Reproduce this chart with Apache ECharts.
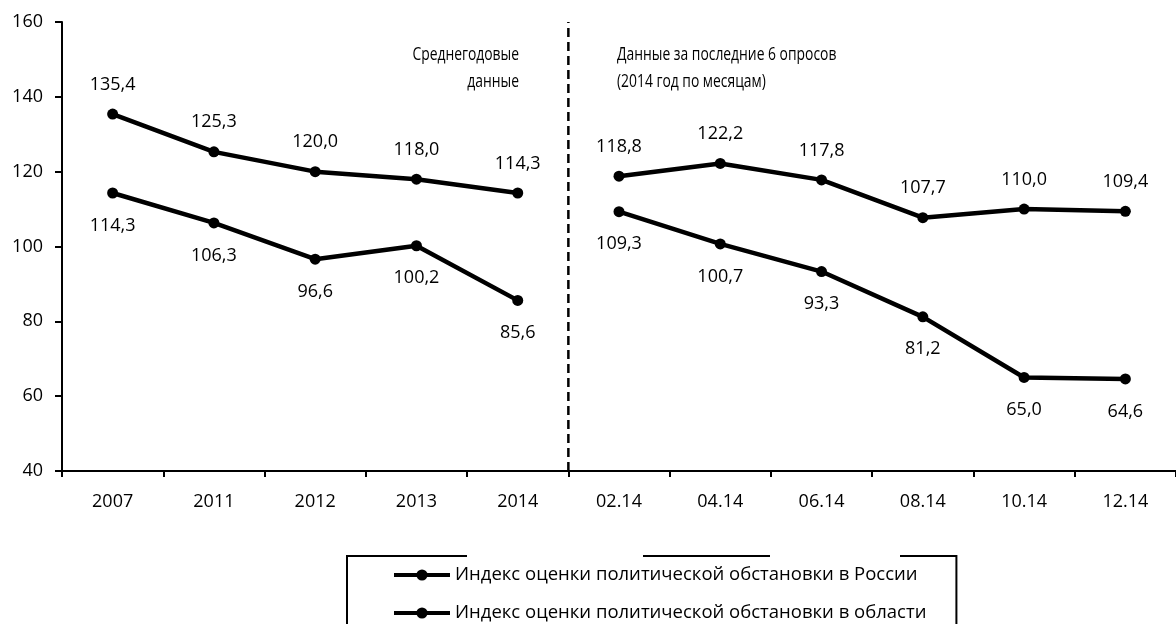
<!DOCTYPE html>
<html>
<head>
<meta charset="utf-8">
<script src="https://cdn.jsdelivr.net/npm/echarts@6/dist/echarts.min.js"></script>
<style>
    html, body { margin: 0; padding: 0; background: #fff; }
    #main { width: 1176px; height: 624px; }
</style>
</head>
<body>
<div id="main"></div>
<script>
    var categories = ['2007', '2011', '2012', '2013', '2014', '02.14', '04.14', '06.14', '08.14', '10.14', '12.14'];
    var russiaAnnual = [135.4, 125.3, 120.0, 118.0, 114.3];
    var russiaMonthly = [118.8, 122.2, 117.8, 107.7, 110.0, 109.4];
    var regionAnnual = [114.3, 106.3, 96.6, 100.2, 85.6];
    var regionMonthly = [109.3, 100.7, 93.3, 81.2, 65.0, 64.6];
    var dividerX = [5, 5];
    var dividerY = [40, 160];

    var nameRussia = 'Индекс оценки политической обстановки в России';
    var nameRegion = 'Индекс оценки политической обстановки в области';

    // годовые точки слева, месячные справа, между ними разрыв
    function padAfter(arr) {
        var out = arr.slice();
        while (out.length < categories.length) out.push('-');
        return out;
    }
    function padBefore(arr) {
        var out = arr.slice();
        while (out.length < categories.length) out.unshift('-');
        return out;
    }

    var font = '"Open Sans", sans-serif';

    function lineSeries(name, data, pos, dist) {
        return {
            name: name,
            type: 'line',
            data: data,
            symbol: 'circle',
            symbolSize: 11,
            lineStyle: { color: '#000', width: 4.5 },
            itemStyle: { color: '#000' },
            label: {
                show: true,
                position: pos,
                distance: dist,
                color: '#000',
                fontFamily: font,
                fontSize: 18,
                lineHeight: 20,
                formatter: function (p) {
                    return Number(p.value).toFixed(1).replace('.', ',');
                }
            },
            silent: true,
            animation: false
        };
    }

    var myChart = echarts.init(document.getElementById('main'));

    var option = {
        animation: false,
        grid: {
            left: 62,
            top: 22,
            width: 1119,
            height: 449
        },
        legend: {
            data: [nameRussia, nameRegion],
            orient: 'vertical',
            left: 347,
            top: 556,
            height: 200,
            padding: [9, 30, 12, 45],
            itemGap: 18,
            itemWidth: 56,
            itemHeight: 14,
            borderColor: '#000',
            borderWidth: 2,
            borderRadius: 0,
            selectedMode: false,
            lineStyle: { width: 4 },
            textStyle: {
                color: '#000',
                fontFamily: font,
                fontSize: 18.5,
                lineHeight: 20
            }
        },
        xAxis: [
            {
                type: 'category',
                data: categories,
                boundaryGap: true,
                axisLine: { lineStyle: { color: '#000', width: 2 } },
                axisTick: { show: true, length: 6, interval: 0, lineStyle: { color: '#000', width: 2 } },
                axisLabel: {
                    color: '#000',
                    fontFamily: font,
                    fontSize: 18,
                    lineHeight: 20,
                    margin: 21,
                    interval: 0
                },
                splitLine: { show: false }
            },
            {
                type: 'value',
                min: 0,
                max: 11,
                show: false
            }
        ],
        yAxis: {
            type: 'value',
            min: 40,
            max: 160,
            interval: 20,
            axisLine: { show: true, lineStyle: { color: '#000', width: 2 } },
            axisTick: { show: true, length: 7, lineStyle: { color: '#000', width: 2 } },
            axisLabel: {
                color: '#000',
                fontFamily: font,
                fontSize: 18,
                margin: 19
            },
            splitLine: { show: false }
        },
        graphic: [
            {
                type: 'text',
                x: 519,
                y: 41,
                scaleX: 0.73,
                style: {
                    text: 'Среднегодовые\nданные',
                    align: 'right',
                    verticalAlign: 'top',
                    fill: '#000',
                    font: '19px "Open Sans", sans-serif',
                    lineHeight: 27
                }
            },
            {
                type: 'text',
                x: 617,
                y: 41,
                scaleX: 0.73,
                style: {
                    text: 'Данные за последние 6 опросов\n(2014 год по месяцам)',
                    align: 'left',
                    verticalAlign: 'top',
                    fill: '#000',
                    font: '19px "Open Sans", sans-serif',
                    lineHeight: 27
                }
            },
            // разрывы в верхней рамке легенды, как на исходнике
            { type: 'rect', left: 467, top: 552, shape: { width: 176, height: 8 }, style: { fill: '#fff' }, z: 100 },
            { type: 'rect', left: 770, top: 552, shape: { width: 130, height: 8 }, style: { fill: '#fff' }, z: 100 }
        ],
        series: [
            lineSeries(nameRussia, padAfter(russiaAnnual), 'top', 14),
            lineSeries(nameRussia, padBefore(russiaMonthly), 'top', 14),
            lineSeries(nameRegion, padAfter(regionAnnual), 'bottom', 17),
            lineSeries(nameRegion, padBefore(regionMonthly), 'bottom', 17),
            {
                name: 'divider',
                type: 'line',
                xAxisIndex: 1,
                data: [[dividerX[0], dividerY[0]], [dividerX[1], dividerY[1]]],
                symbol: 'none',
                lineStyle: { color: '#000', width: 2.5, type: [9, 5] },
                silent: true,
                animation: false
            }
        ]
    };
    myChart.setOption(option);
</script>
</body>
</html>
